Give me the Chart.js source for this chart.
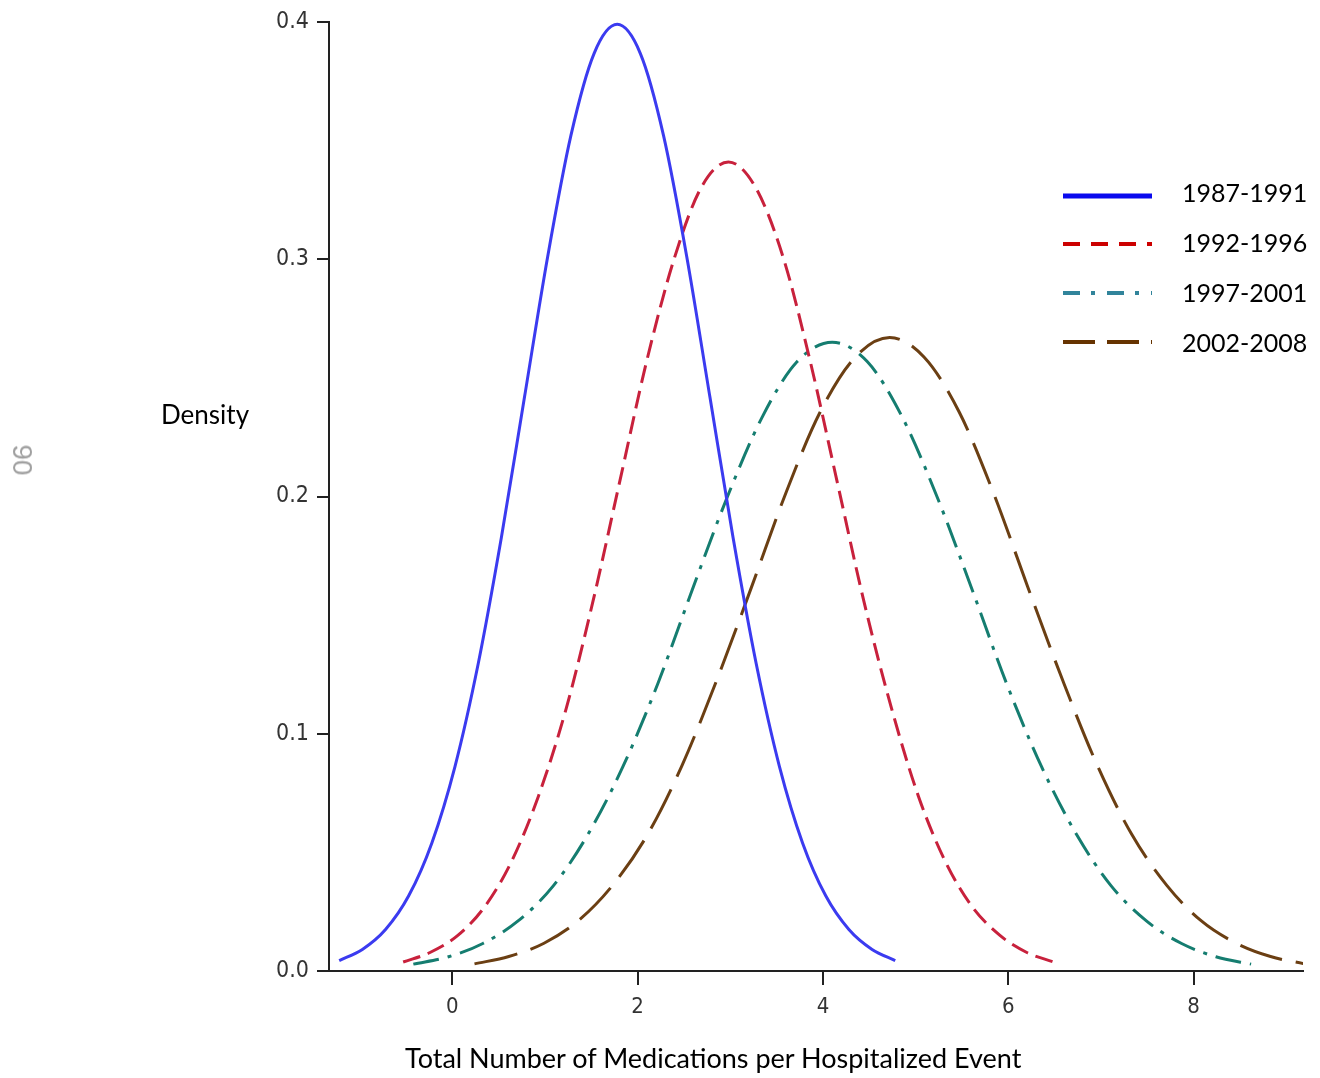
<!DOCTYPE html>
<html>
<head>
<meta charset="utf-8">
<script src="https://cdn.jsdelivr.net/npm/chart.js@4/dist/chart.umd.min.js"></script>
<style>
  html, body { margin: 0; padding: 0; background: #fff; }
  #wrap { position: relative; width: 1320px; height: 1078px; }
  #c { position: absolute; left: 0; top: 0; }
  .lbl { position: absolute; font-family: Lato, 'Open Sans', sans-serif; color: #000; white-space: nowrap; }
  #ytitle { left: 161px; top: 398px; font-size: 26px; }
  #xtitle { left: 405px; top: 1041px; font-size: 27px; }
  #side { left: 22px; top: 460px; font-family: 'Liberation Sans', Arial, sans-serif; font-size: 28px; color: #a0a0a0;
          transform: translate(-50%, -50%) rotate(90deg); }
</style>
</head>
<body>
<div id="wrap">
  <canvas id="c" width="1320" height="1078"></canvas>
  <div class="lbl" id="ytitle">Density</div>
  <div class="lbl" id="xtitle">Total Number of Medications per Hospitalized Event</div>
  <div class="lbl" id="side">90</div>
</div>
<script>
// ---- data ----
const seriesLabels = ['1987-1991', '1992-1996', '1997-2001', '2002-2008'];

const x1987 = [-1.22,-0.97,-0.72,-0.47,-0.22,0.03,0.28,0.53,0.78,1.03,1.28,1.53,1.78,2.03,2.28,2.53,2.78,3.03,3.28,3.53,3.78,4.03,4.28,4.53,4.78];
const y1987 = [0.0044,0.0091,0.0175,0.0317,0.0540,0.0863,0.1295,0.1827,0.2420,0.3012,0.3521,0.3867,0.3990,0.3867,0.3521,0.3012,0.2420,0.1827,0.1295,0.0863,0.0540,0.0317,0.0175,0.0091,0.0044];

const x1992 = [-0.53,-0.24,0.06,0.35,0.64,0.93,1.23,1.52,1.81,2.10,2.40,2.69,2.98,3.27,3.57,3.86,4.15,4.44,4.74,5.03,5.32,5.61,5.91,6.20,6.49];
const y1992 = [0.0038,0.0078,0.0150,0.0271,0.0462,0.0737,0.1107,0.1561,0.2068,0.2574,0.3009,0.3305,0.3410,0.3305,0.3009,0.2574,0.2068,0.1561,0.1107,0.0737,0.0462,0.0271,0.0150,0.0078,0.0038];

const x1997 = [-0.42,-0.04,0.33,0.71,1.09,1.46,1.84,2.22,2.59,2.97,3.35,3.72,4.10,4.48,4.85,5.23,5.61,5.98,6.36,6.74,7.11,7.49,7.87,8.24,8.62];
const y1997 = [0.0029,0.0060,0.0116,0.0211,0.0359,0.0573,0.0860,0.1213,0.1607,0.2000,0.2339,0.2568,0.2650,0.2568,0.2339,0.2000,0.1607,0.1213,0.0860,0.0573,0.0359,0.0211,0.0116,0.0060,0.0029];

const x2002 = [0.24,0.61,0.99,1.36,1.73,2.11,2.48,2.85,3.23,3.60,3.97,4.35,4.72,5.09,5.47,5.84,6.21,6.59,6.96,7.33,7.71,8.08,8.46,8.83,9.20];
const y2002 = [0.0030,0.0061,0.0117,0.0212,0.0361,0.0577,0.0867,0.1222,0.1619,0.2015,0.2356,0.2588,0.2670,0.2588,0.2356,0.2015,0.1619,0.1222,0.0867,0.0577,0.0361,0.0212,0.0117,0.0061,0.0030];

const xTicks = [0, 2, 4, 6, 8];
const yTicks = [0.0, 0.1, 0.2, 0.3, 0.4];

// ---- build datasets ----
const pts = (xs, ys) => xs.map((x, i) => ({ x: x, y: ys[i] }));
const styles = [
  { color: '#3b3bf0', legendColor: '#0a0aee', dash: [], legendDash: [], legendWidth: 5 },
  { color: '#c8213c', legendColor: '#cc0000', dash: [18, 8], legendDash: [17, 11], legendWidth: 4 },
  { color: '#157d70', legendColor: '#31849b', dash: [26, 9, 4, 9], legendDash: [17, 11, 4, 12], legendWidth: 4 },
  { color: '#6b3f13', legendColor: '#663300', dash: [44, 14], legendDash: [32, 12], legendWidth: 4 }
];
const seriesData = [pts(x1987, y1987), pts(x1992, y1992), pts(x1997, y1997), pts(x2002, y2002)];
const datasets = seriesData.map((d, i) => ({
  label: seriesLabels[i],
  data: d,
  borderColor: styles[i].color,
  borderDash: styles[i].dash,
  borderWidth: 3,
  pointRadius: 0,
  fill: false,
  tension: 0.4,
  cubicInterpolationMode: 'monotone'
}));

const legendPlugin = {
  id: 'customLegend',
  afterDraw(chart) {
    const ctx = chart.ctx;
    const lineRows = [196, 244, 293, 342];
    const textRows = [194, 244, 294, 344];
    ctx.save();
    seriesLabels.forEach((lab, i) => {
      const s = styles[i];
      ctx.beginPath();
      ctx.setLineDash(s.legendDash);
      ctx.lineWidth = s.legendWidth;
      ctx.strokeStyle = s.legendColor;
      ctx.lineCap = 'butt';
      ctx.moveTo(1063, lineRows[i]);
      ctx.lineTo(1152, lineRows[i]);
      ctx.stroke();
      ctx.setLineDash([]);
      ctx.fillStyle = '#000';
      ctx.font = '25px Lato, "Open Sans", sans-serif';
      ctx.textBaseline = 'middle';
      ctx.textAlign = 'left';
      ctx.fillText(lab, 1182, textRows[i]);
    });
    ctx.restore();
  }
};

const tickFamily = "'Liberation Sans Narrow', 'DejaVu Sans Condensed', sans-serif";

new Chart(document.getElementById('c'), {
  type: 'line',
  data: { datasets: datasets },
  options: {
    responsive: false,
    animation: false,
    layout: { padding: { left: 0, right: 17, top: 22, bottom: 0 } },
    plugins: { legend: { display: false }, tooltip: { enabled: false } },
    scales: {
      x: {
        type: 'linear',
        min: -1.33,
        max: 9.18,
        afterFit(scale) { scale.height = 107; },
        afterBuildTicks(scale) { scale.ticks = xTicks.map(v => ({ value: v })); },
        ticks: { font: { family: tickFamily, size: 22 }, color: '#333', padding: 9, maxRotation: 0, callback: v => String(v) },
        grid: { drawOnChartArea: false, drawTicks: true, tickLength: 14, color: '#222', lineWidth: 2 },
        border: { display: true, color: '#222', width: 2 }
      },
      y: {
        min: 0,
        max: 0.4,
        afterFit(scale) { scale.width = 329; },
        afterBuildTicks(scale) { scale.ticks = yTicks.map(v => ({ value: v })); },
        ticks: { font: { family: tickFamily, size: 23 }, color: '#333', padding: 8, callback: v => Number(v).toFixed(1) },
        grid: { drawOnChartArea: false, drawTicks: true, tickLength: 12, color: '#222', lineWidth: 2 },
        border: { display: true, color: '#222', width: 2 }
      }
    }
  },
  plugins: [legendPlugin]
});
</script>
</body>
</html>
